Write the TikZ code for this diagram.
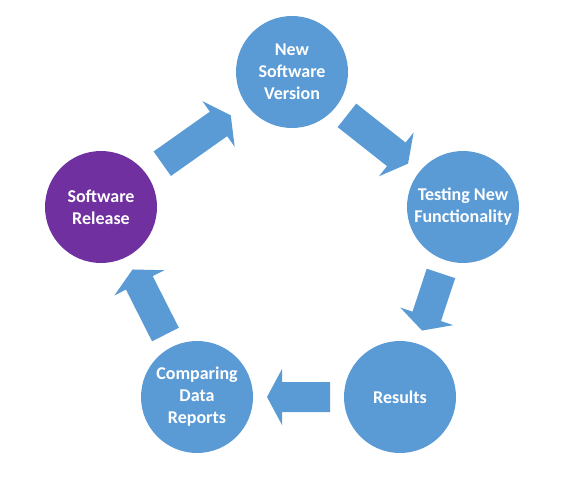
\documentclass[tikz,border=0pt]{standalone}
\usepackage{fontspec}
\setmainfont{Carlito}
\usetikzlibrary{calc}
\definecolor{stageblue}{HTML}{5B9BD5}
\definecolor{stagepurple}{HTML}{7030A0}
\newcommand\flowarrow[3][70pt]{%
  \coordinate (fa-t) at ($(#2)!#1!(#3)$);
  \coordinate (fa-h) at ($(#3)!#1!(#2)$);
  \coordinate (fa-b) at ($(fa-h)!15pt!(fa-t)$);
  \fill[stageblue] ($(fa-t)!15pt!90:(fa-h)$) -- ($(fa-b)!15pt!90:(fa-h)$)
    -- ($(fa-b)!28pt!90:(fa-h)$) -- (fa-h) -- ($(fa-b)!28pt!-90:(fa-h)$)
    -- ($(fa-b)!15pt!-90:(fa-h)$) -- ($(fa-t)!15pt!-90:(fa-h)$) -- cycle;
}
\begin{document}
\begin{tikzpicture}[x=1pt,y=-1pt,
  stage/.style={circle,fill=stageblue,minimum size=112pt,inner sep=0pt,align=center,text=white,font=\fontsize{18}{22}\selectfont\bfseries}]
\useasboundingbox (0,0) rectangle (567,489);
\node[stage] (version) at (292,72) {New\\Software\\Version};
\node[stage] (testing) at (463,207) {Testing New\\Functionality};
\node[stage] (results) at (400,397) {Results};
\node[stage] (compare) at (197,397) {Comparing\\Data\\Reports};
\node[stage,fill=stagepurple] (release) at (101,207) {Software\\Release};
\flowarrow[75pt]{release}{version}
\flowarrow{version}{testing}
\flowarrow{testing}{results}
\flowarrow{results}{compare}
\flowarrow{compare}{release}
\end{tikzpicture}
\end{document}
